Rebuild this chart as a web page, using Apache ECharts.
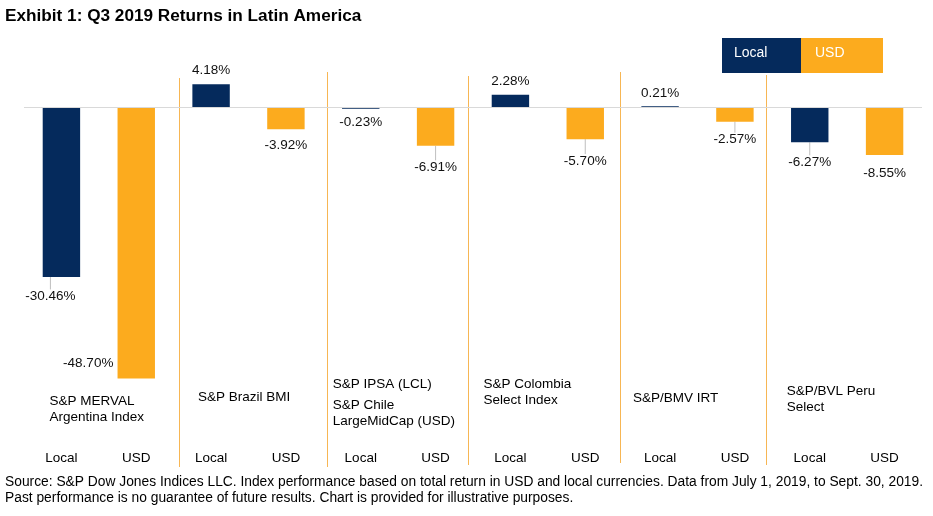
<!DOCTYPE html>
<html>
<head>
<meta charset="utf-8">
<script src="https://cdn.jsdelivr.net/npm/echarts@6/dist/echarts.min.js"></script>
<style>
html,body{margin:0;padding:0;background:#fff;}
#main{width:933px;height:516px;}
</style>
</head>
<body>
<div id="main"></div>
<script>
// ---- data ----
const categories = ['Local','USD','Local','USD','Local','USD','Local','USD','Local','USD','Local','USD'];
const returns = [-30.46, -48.70, 4.18, -3.92, -0.23, -6.91, 2.28, -5.70, 0.21, -2.57, -6.27, -8.55];
const groupNames = [
  'S&P MERVAL\nArgentina Index',
  'S&P Brazil BMI',
  'S&P IPSA (LCL)',
  'S&P Colombia\nSelect Index',
  'S&P/BMV IRT',
  'S&P/BVL Peru\nSelect'
];
const chileUsdName = 'S&P Chile\nLargeMidCap (USD)';
const legendNames = ['Local','USD'];
const titleText = 'Exhibit 1: Q3 2019 Returns in Latin America';
const footerLines = [
  'Source: S&P Dow Jones Indices LLC. Index performance based on total return in USD and local currencies. Data from July 1, 2019, to Sept. 30, 2019.',
  'Past performance is no guarantee of future results. Chart is provided for illustrative purposes.'
];

// ---- layout / style (not data) ----
const NAVY = '#052a5c';
const ORANGE = '#fcab1e';
const SEP = '#f7b654';
const FONT = 'Arial, "Liberation Sans", sans-serif';
const labelNudge = [[-11,8.5],[-48,-26],[0,-3],[0,5],[0,3],[0,10.5],[0,-2],[0,11],[0,-2],[0,7],[0,9],[0,7.5]];
const guideLine = [true,false,false,false,false,true,false,true,false,true,true,false];
// group label: [dx from Local bar center, top y]
const groupLabelPos = [[-12,393],[-13,389],[-28,376],[-27,376],[-27,390],[-23,383]];
// separators: [shift from band boundary, top y, bottom y]
const sepLayout = [[5,78,467],[4,72,467],[-5,76,465],[-3,72,463],[-6,75,465]];

const chart = echarts.init(document.getElementById('main'));

const seriesData = returns.map((v, i) => ({
  value: v,
  itemStyle: { color: i % 2 === 0 ? NAVY : ORANGE },
  label: { position: v >= 0 ? 'top' : 'bottom' },
  labelLine: { show: guideLine[i] }
}));

chart.setOption({
  animation: false,
  textStyle: { fontFamily: FONT },
  grid: { left: 24, right: 11, top: 74, bottom: 69, containLabel: false },
  xAxis: {
    type: 'category',
    data: categories,
    boundaryGap: true,
    axisLine: { show: false },
    axisTick: { show: false },
    splitLine: { show: false },
    axisLabel: { interval: 0, margin: 4, fontSize: 13.5, color: '#000', fontFamily: FONT }
  },
  yAxis: {
    type: 'value', min: -61, max: 6,
    show: false,
    splitLine: { show: false }
  },
  series: [{
    type: 'bar',
    data: seriesData,
    barWidth: '50%',
    label: {
      show: true,
      distance: 4,
      fontSize: 13.5,
      color: '#111',
      fontFamily: FONT,
      formatter: (p) => p.value.toFixed(2) + '%'
    },
    labelLine: { lineStyle: { color: '#bfbfbf', width: 1 } },
    labelLayout: (p) => ({ dx: labelNudge[p.dataIndex][0], dy: labelNudge[p.dataIndex][1] }),
    markLine: {
      silent: true,
      symbol: 'none',
      label: { show: false },
      lineStyle: { color: '#d9d9d9', width: 1, type: 'solid' },
      data: [{ yAxis: 0 }]
    }
  }]
});

const g = [];
// title
g.push({ type: 'text', left: 5, top: 8, style: { text: titleText, font: 'bold 17.2px ' + FONT, fill: '#000' } });
// separators between groups
sepLayout.forEach((s, k) => {
  const a = chart.convertToPixel({ xAxisIndex: 0 }, 2 * k + 1);
  const b = chart.convertToPixel({ xAxisIndex: 0 }, 2 * k + 2);
  const x = Math.round((a + b) / 2 + s[0]) + 0.5;
  g.push({
    type: 'line', silent: true,
    shape: { x1: x, y1: s[1], x2: x, y2: s[2] },
    style: { stroke: SEP, lineWidth: 1 }
  });
});
// group labels
groupNames.forEach((name, i) => {
  const cx = chart.convertToPixel({ xAxisIndex: 0 }, i * 2);
  g.push({
    type: 'text',
    left: cx + groupLabelPos[i][0],
    top: groupLabelPos[i][1],
    style: { text: name, font: '13.5px ' + FONT, fill: '#000', lineHeight: 16 }
  });
});
{
  const cx = chart.convertToPixel({ xAxisIndex: 0 }, 4);
  g.push({
    type: 'text', left: cx - 28, top: 397,
    style: { text: chileUsdName, font: '13.5px ' + FONT, fill: '#000', lineHeight: 16 }
  });
}
// legend
g.push({ type: 'rect', left: 722, top: 38, shape: { width: 79, height: 35 }, style: { fill: NAVY } });
g.push({ type: 'rect', left: 801, top: 38, shape: { width: 82, height: 35 }, style: { fill: ORANGE } });
g.push({ type: 'text', left: 734, top: 46, style: { text: legendNames[0], font: '14px ' + FONT, fill: '#fff' } });
g.push({ type: 'text', left: 815, top: 46, style: { text: legendNames[1], font: '14px ' + FONT, fill: '#fff' } });
// footer
footerLines.forEach((t, i) => {
  g.push({ type: 'text', left: 5, top: 475 + i * 16, style: { text: t, font: '13.8px ' + FONT, fill: '#000' } });
});
chart.setOption({ graphic: g });
</script>
</body>
</html>
